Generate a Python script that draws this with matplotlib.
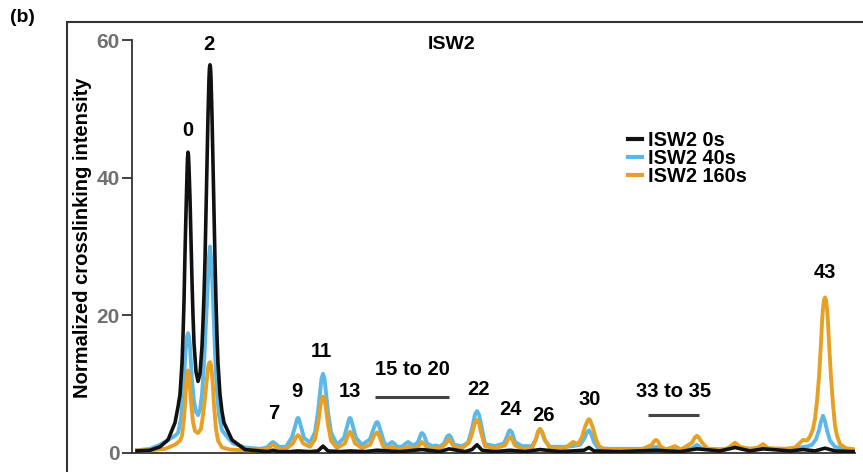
import matplotlib
matplotlib.use('Agg')
import matplotlib.pyplot as plt
from matplotlib.patches import Rectangle
import numpy as np

plt.rcParams['font.family'] = ['Liberation Sans', 'DejaVu Sans']
plt.rcParams['font.weight'] = 'bold'

# gel lane position (a.u.) and normalized crosslinking intensity
x_0s = [137, 150, 160, 168, 175, 178, 180, 182, 183, 184, 185, 186, 187, 187.5, 188, 188.5, 189,
        190, 191, 192, 193, 194, 196, 198, 200, 202, 203, 204, 205, 206, 207, 208, 209, 209.5,
        210, 210.5, 211, 212, 213, 214, 215, 216, 217, 218, 220, 222, 224, 232, 245, 260,
        268, 273, 278, 290, 298, 310, 318, 323, 328, 340, 350, 365, 377, 400, 422, 440, 449,
        465, 472, 477, 482, 495, 510, 525, 540, 560, 584, 589, 594, 620, 656, 680, 697, 720,
        735, 750, 763, 790, 803, 815, 825, 835, 855]
y_0s = [0.3, 0.4, 0.9, 1.9, 4.4, 6.7, 8.5, 13, 17, 22, 29, 35, 40.5, 42.8, 43.7, 43.2, 41.5,
        37, 31, 25, 20, 16, 11.8, 10.4, 11.5, 15.5, 19, 23, 28, 35, 42, 49, 54.5, 56,
        56.4, 56, 54.5, 49, 42, 35, 28, 22, 17, 13, 8.5, 6, 4.4, 1.9, 0.5, 0.3,
        0.2, 0.4, 0.2, 0.2, 0.3, 0.2, 0.3, 1.0, 0.3, 0.2, 0.3, 0.2, 0.4, 0.2, 0.5, 0.2, 0.6,
        0.2, 0.5, 1.2, 0.4, 0.2, 0.4, 0.2, 0.5, 0.2, 0.4, 0.8, 0.3, 0.2, 0.4, 0.2, 0.6, 0.3,
        0.8, 0.3, 0.6, 0.3, 0.5, 0.3, 0.7, 0.3, 0.2]

x_40s = [137, 150, 160, 168, 175, 178, 181, 183, 185, 186, 187, 188, 189, 190, 191, 192, 194,
         196, 198, 200, 202, 204, 206, 208, 209, 210, 211, 212, 213, 215, 217, 219, 222, 228,
         233, 245, 260, 267, 271, 273, 275, 279, 286, 292, 295, 297, 298, 299, 301, 304, 310,
         315, 318, 320, 321.5, 323, 324.5, 326, 328, 331, 337, 344, 347, 349, 350, 351, 353,
         356, 362, 370, 373, 376, 377, 378, 381, 384, 387, 390, 392, 394, 397, 402, 405, 408,
         411, 414, 418, 421, 422, 424, 427, 432, 436, 440, 444, 447, 449, 451, 454, 462, 468,
         472, 475, 477, 479, 481, 485, 495, 504, 507, 509, 510, 512, 515, 522, 532, 536, 538,
         540, 542, 545, 550, 565, 573, 580, 584, 587, 589, 591, 594, 598, 610, 640, 652, 656,
         660, 670, 675, 680, 692, 697, 702, 720, 730, 735, 740, 755, 763, 768, 790, 800, 808,
         812, 816, 819, 821, 823, 825, 827, 830, 835, 845, 855]
y_40s = [0.4, 0.6, 1.2, 1.9, 2.5, 2.9, 5, 8.5, 13.5, 15.5, 16.9, 17.4, 16.9, 15.5, 13, 10.5, 7.5,
         6, 5.5, 6.3, 8.5, 13, 19, 25.5, 28.5, 30, 28.5, 26, 22.5, 14.5, 9, 5.5, 3.3, 2.2,
         1.4, 0.8, 0.6, 0.8, 1.4, 1.6, 1.4, 0.9, 0.9, 2.3, 3.8, 4.9, 5.1, 4.9, 3.8, 2.2, 1.5,
         3.0, 6, 8.8, 10.8, 11.5, 10.8, 8.8, 6, 3.0, 1.2, 2.2, 3.8, 4.9, 5.1, 4.9, 3.8,
         2.2, 1.2, 2.0, 3.3, 4.4, 4.5, 4.4, 3.0, 1.6, 1.0, 1.4, 1.6, 1.4, 0.9, 0.9, 1.3, 1.6,
         1.3, 1.1, 1.6, 2.8, 2.9, 2.6, 1.4, 1.0, 1.1, 0.9, 1.4, 2.4, 2.6, 2.3, 1.2, 1.0, 1.5,
         3.5, 5.6, 6.1, 5.6, 4.2, 1.3, 1.0, 1.4, 2.4, 3.2, 3.3, 3.0, 1.6, 1.0, 1.0, 2.0, 3.0,
         3.5, 3.0, 1.8, 0.9, 0.9, 1.0, 1.2, 2.0, 3.0, 3.3, 2.8, 1.6, 0.7, 0.6, 0.6, 0.7, 0.9,
         0.6, 0.5, 0.6, 0.5, 0.7, 1.2, 0.6, 0.5, 0.7, 1.0, 0.7, 0.6, 0.8, 0.6, 0.6, 0.8, 1.0,
         1.2, 2.0, 3.3, 4.6, 5.4, 4.6, 3.3, 1.8, 0.9, 0.6, 0.5]

x_160s = [137, 150, 165, 175, 180, 182, 184, 185, 186, 187, 188, 189, 190, 191, 193, 195, 198,
          201, 203, 205, 207, 208, 209, 210, 211, 212, 213, 214, 216, 218, 222, 230, 245, 260,
          268, 271, 273, 275, 279, 286, 293, 296, 298, 300, 303, 310, 315, 318, 320, 321.5, 323,
          324.5, 326, 328, 331, 337, 345, 348, 350, 352, 355, 362, 370, 374, 377, 379, 383, 387,
          392, 397, 402, 408, 413, 418, 422, 427, 432, 436, 440, 445, 449, 454, 462, 469, 472,
          475, 477, 479, 481, 485, 495, 505, 508, 510, 512, 515, 522, 532, 536, 538, 540, 542,
          545, 550, 565, 573, 578, 582, 585, 588, 589, 590, 593, 596, 599, 605, 640, 652, 654,
          656, 658, 660, 666, 675, 681, 692, 695, 697, 699, 702, 708, 725, 730, 735, 740, 750,
          758, 763, 768, 785, 795, 800, 803, 807, 810, 813, 815, 817, 819, 821, 822, 823, 824,
          825, 826, 827, 828, 829, 831, 833, 835, 837, 840, 846, 855]
y_160s = [0.4, 0.4, 0.6, 1.2, 1.8, 2.5, 5, 7, 9.5, 11.3, 12, 11.3, 9.5, 7.5, 4.5, 3.2, 2.9,
          3.5, 5.5, 8, 11, 12.4, 13, 13.2, 12.8, 11.5, 9.5, 7, 3.5, 1.8, 0.8, 0.5, 0.4, 0.4,
          0.6, 1.0, 1.2, 1.0, 0.5, 0.6, 1.4, 2.3, 2.6, 2.3, 1.4, 0.9, 2.0, 4.2, 6.4, 7.8, 8.2,
          7.8, 6.4, 4.2, 1.8, 0.7, 1.4, 2.6, 3.1, 2.6, 1.4, 0.7, 1.2, 2.5, 3.0, 2.6, 1.0, 0.6,
          0.9, 0.5, 0.5, 0.9, 0.6, 0.9, 1.6, 0.8, 0.6, 0.8, 0.6, 1.2, 2.0, 0.9, 0.7, 1.5, 2.8,
          4.4, 4.8, 4.3, 3.0, 1.0, 0.7, 1.1, 2.0, 2.3, 2.0, 1.1, 0.6, 0.7, 2.0, 3.1, 3.5, 3.1,
          1.9, 0.7, 0.7, 1.6, 1.3, 2.3, 3.8, 4.8, 4.9, 4.8, 3.6, 2.0, 1.0, 0.5, 0.4, 1.2, 1.7,
          1.9, 1.7, 1.0, 0.5, 1.0, 0.5, 1.5, 2.3, 2.5, 2.2, 1.5, 0.6, 0.5, 0.9, 1.5, 0.9, 0.6,
          0.8, 1.3, 0.7, 0.6, 0.8, 1.5, 1.9, 1.8, 2.4, 3.5, 5, 7.5, 11, 16, 19, 21, 22.2,
          22.6, 22.2, 21, 19, 16, 11, 7, 4, 2.5, 1.3, 0.7, 0.5]

# peak labels: text, lane position, height
peak_labels = ['0', '2', '7', '9', '11', '13', '22', '24', '26', '30', '43']
peak_pos = [188, 209, 274, 297, 321, 350, 478, 510, 543, 590, 825]
peak_lab_y = [46.9, 59.3, 5.8, 9.0, 14.8, 9.0, 9.2, 6.25, 5.4, 7.7, 26.2]

# grouped ranges: text, start, end, label height, bar height
range_labels = ['15 to 20', '33 to 35']
range_start = [375, 648]
range_end = [449, 699]
range_lab_y = [12.2, 8.9]
range_bar_y = [8.1, 5.5]

c_black = '#111111'
c_blue = '#5cb8e6'
c_orange = '#e8a024'

fig = plt.figure(figsize=(8.63, 4.72), dpi=100)
ax = fig.add_axes([132/863, 19/472, 723/863, 413/472])

ax.plot(x_40s, y_40s, color=c_blue, lw=2.8, label='ISW2 40s', zorder=2, solid_joinstyle='round')
ax.plot(x_160s, y_160s, color=c_orange, lw=2.8, label='ISW2 160s', zorder=3, solid_joinstyle='round')
ax.plot(x_0s, y_0s, color=c_black, lw=2.6, label='ISW2 0s', zorder=4, solid_joinstyle='round')

for t, px, py in zip(peak_labels, peak_pos, peak_lab_y):
    ax.text(px, py, t, ha='center', va='center', fontsize=14.5, fontweight='bold')
for t, s, e, ly, by in zip(range_labels, range_start, range_end, range_lab_y, range_bar_y):
    ax.text((s + e) / 2, ly, t, ha='center', va='center', fontsize=14.5, fontweight='bold')
    ax.plot([s, e], [by, by], color='#444444', lw=2.2, solid_capstyle='butt')

ax.text(452, 59.3, 'ISW2', ha='center', va='center', fontsize=14, fontweight='bold')

ax.set_xlim(132, 855)
ax.set_ylim(0, 60)
ax.set_yticks([0, 20, 40, 60])
ax.set_xticks([])
ax.spines['top'].set_visible(False)
ax.spines['right'].set_visible(False)
for s in ['left', 'bottom']:
    ax.spines[s].set_color('#333333')
    ax.spines[s].set_linewidth(1.3)
ax.tick_params(axis='y', length=7, width=1.3, color='#333333', labelcolor='#707070',
               labelsize=15, pad=2)
for lab in ax.get_yticklabels():
    lab.set_fontweight('bold')
ax.set_ylabel('Normalized crosslinking intensity', fontsize=14.5, fontweight='bold')
ax.yaxis.set_label_coords(-0.055, 0.52)

handles, labels = ax.get_legend_handles_labels()
order = [2, 0, 1]
leg = ax.legend([handles[i] for i in order], [labels[i] for i in order],
                loc='upper left', bbox_to_anchor=(0.672, 0.804), frameon=False,
                handlelength=0.7, handletextpad=0.3, labelspacing=-0.05,
                prop={'size': 14.4, 'weight': 'bold'}, borderpad=0)
for line in leg.get_lines():
    line.set_linewidth(3)

# outer panel frame
fig.patches.append(Rectangle((67/863, -0.1), 1.1, (472 - 22)/472 + 0.1, transform=fig.transFigure,
                             fill=False, edgecolor='#333333', lw=1.5))
fig.text(10/863, 1 - 18/472, '(b)', fontsize=14, fontweight='bold', va='center', ha='left')

fig.savefig('out.png', dpi=100)
